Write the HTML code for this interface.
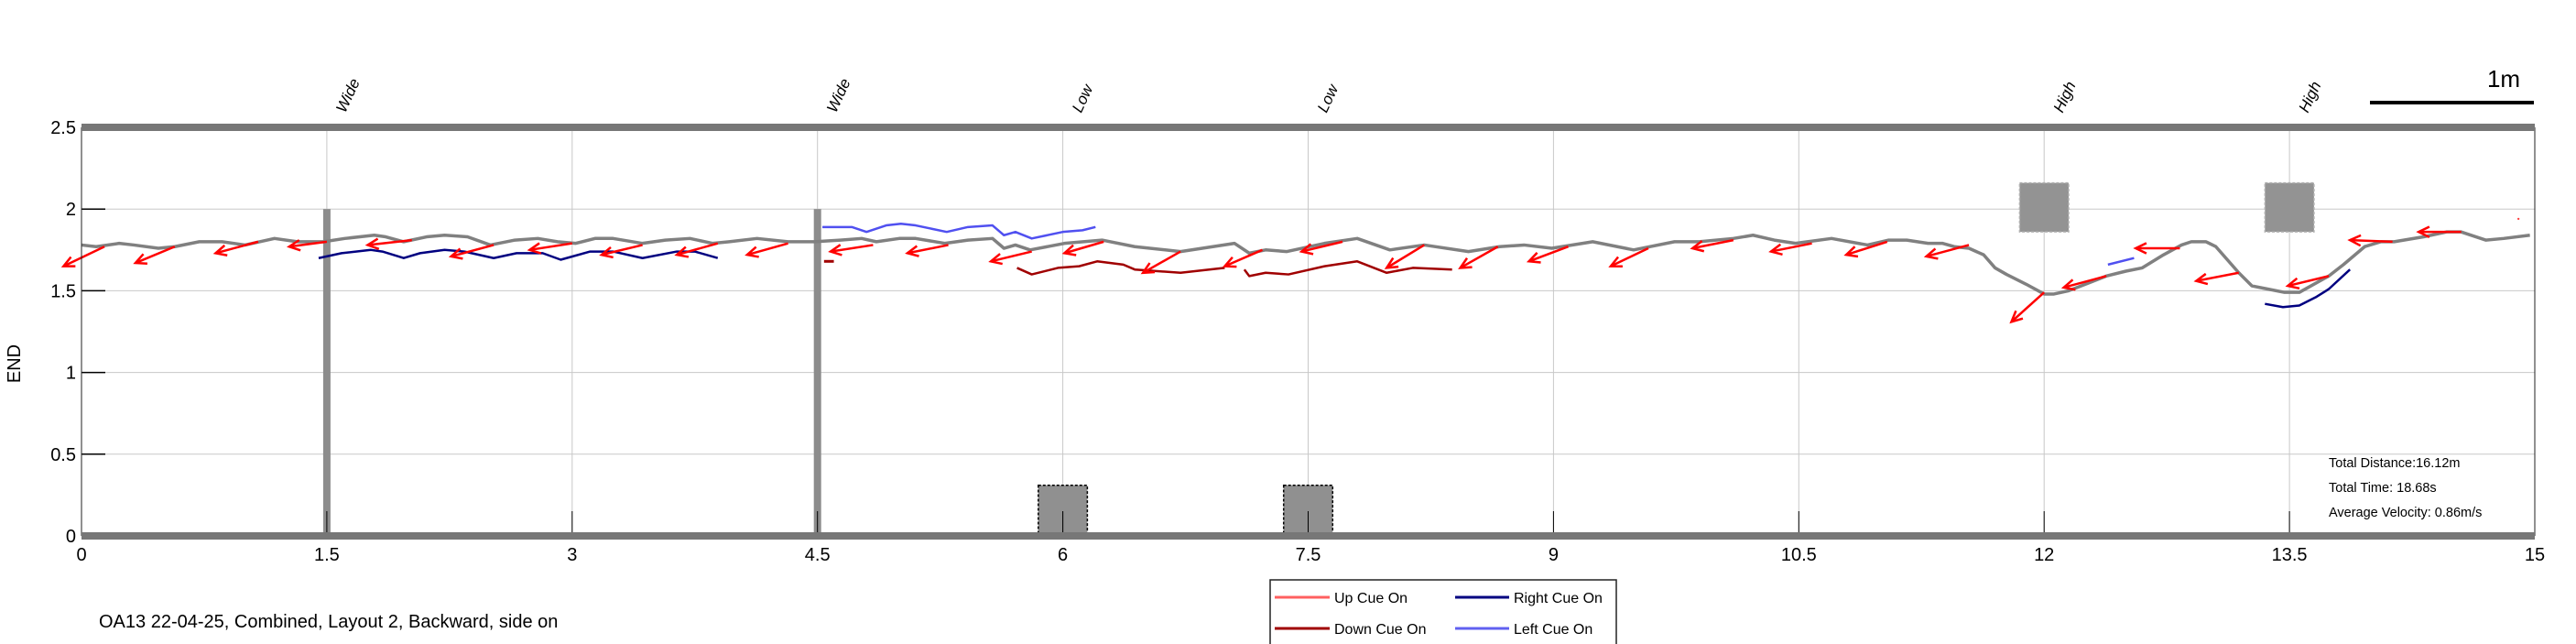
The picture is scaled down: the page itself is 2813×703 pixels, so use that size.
<!DOCTYPE html>
<html><head><meta charset="utf-8"><style>
html,body{margin:0;padding:0;background:#fff;}
svg{display:block;font-family:"Liberation Sans Narrow","Liberation Sans",sans-serif;}
</style></head><body>
<svg id="chart" width="2813" height="703" viewBox="0 0 2813 703" xmlns="http://www.w3.org/2000/svg">
<g id="grid"></g>
<g id="obstacles"></g>
<g id="series"></g>
<g id="axes"></g>
<text x="22" y="397" font-size="20" text-anchor="middle" transform="rotate(-90 22 397)">END</text>
<g>
<line x1="2588" y1="112" x2="2767" y2="112" stroke="#000" stroke-width="4"/>
<text x="2734" y="95" font-size="26" text-anchor="middle">1m</text>
</g>
<g font-size="14.5" font-family="Liberation Sans, sans-serif">
<text x="2543" y="510">Total Distance:16.12m</text>
<text x="2543" y="537">Total Time: 18.68s</text>
<text x="2543" y="564">Average Velocity: 0.86m/s</text>
</g>
<text x="108" y="685" font-size="20" font-family="Liberation Sans, sans-serif">OA13 22-04-25, Combined, Layout 2, Backward, side on</text>
<g font-size="16" font-family="Liberation Sans, sans-serif">
<rect x="1387" y="633" width="378" height="72" fill="#fff" stroke="#222" stroke-width="1.5"/>
<g><line x1="1392" y1="652" x2="1452" y2="652" stroke="#ff6060" stroke-width="3"/><text x="1457" y="658">Up Cue On</text></g>
<g><line x1="1589" y1="652" x2="1648" y2="652" stroke="#000080" stroke-width="3"/><text x="1653" y="658">Right Cue On</text></g>
<g><line x1="1392" y1="686" x2="1452" y2="686" stroke="#a00000" stroke-width="3"/><text x="1457" y="692">Down Cue On</text></g>
<g><line x1="1589" y1="686" x2="1648" y2="686" stroke="#6060f0" stroke-width="3"/><text x="1653" y="692">Left Cue On</text></g>
</g>
</svg>
<script>
const xTicks=[0,1.5,3,4.5,6,7.5,9,10.5,12,13.5,15];
const xTickLabels=["0","1.5","3","4.5","6","7.5","9","10.5","12","13.5","15"];
const yTicks=[0,0.5,1,1.5,2,2.5];
const yTickLabels=["0","0.5","1","1.5","2","2.5"];
const cueX=[1.5,4.5,6,7.5,12,13.5];
const cueLabels=["Wide","Wide","Low","Low","High","High"];
const pathX=[0,0.09,0.23,0.32,0.47,0.57,0.72,0.86,1.0,1.18,1.32,1.48,1.61,1.79,1.86,1.97,2.11,2.22,2.36,2.5,2.65,2.79,2.91,3.02,3.14,3.25,3.43,3.57,3.72,3.86,3.96,4.13,4.32,4.48,4.64,4.77,4.86,5.0,5.1,5.28,5.42,5.57,5.64,5.71,5.8,6.01,6.24,6.44,6.72,7.05,7.14,7.24,7.37,7.6,7.8,8.0,8.21,8.48,8.67,8.82,8.99,9.24,9.49,9.74,9.89,10.1,10.22,10.35,10.48,10.7,10.92,11.05,11.16,11.29,11.38,11.45,11.54,11.63,11.7,11.77,11.89,12.0,12.06,12.15,12.38,12.5,12.6,12.73,12.84,12.9,12.99,13.05,13.19,13.27,13.37,13.47,13.56,13.74,13.83,13.96,14.06,14.14,14.32,14.46,14.55,14.7,14.81,14.97];
const pathY=[1.78,1.77,1.79,1.78,1.76,1.77,1.80,1.80,1.78,1.82,1.80,1.80,1.82,1.84,1.83,1.80,1.83,1.84,1.83,1.78,1.81,1.82,1.80,1.79,1.82,1.82,1.79,1.81,1.82,1.79,1.80,1.82,1.80,1.80,1.81,1.82,1.80,1.82,1.82,1.79,1.81,1.82,1.76,1.78,1.75,1.79,1.81,1.77,1.74,1.79,1.73,1.75,1.74,1.79,1.82,1.75,1.78,1.74,1.77,1.78,1.76,1.80,1.75,1.80,1.80,1.82,1.84,1.81,1.79,1.82,1.78,1.81,1.81,1.79,1.79,1.77,1.76,1.72,1.64,1.60,1.54,1.48,1.48,1.50,1.59,1.62,1.64,1.72,1.78,1.80,1.80,1.77,1.61,1.53,1.51,1.49,1.49,1.59,1.66,1.77,1.80,1.80,1.83,1.86,1.86,1.81,1.82,1.84];
const rightX1=[1.45,1.59,1.77,1.84,1.97,2.07,2.22,2.34,2.52,2.66,2.82,2.93,3.11,3.25,3.43,3.64,3.75,3.89];
const rightY1=[1.70,1.73,1.75,1.74,1.70,1.73,1.75,1.74,1.70,1.73,1.73,1.69,1.74,1.74,1.70,1.74,1.74,1.70];
const rightX2=[13.35,13.46,13.56,13.66,13.74,13.87];
const rightY2=[1.42,1.40,1.41,1.46,1.51,1.63];
const leftX1=[4.53,4.71,4.8,4.92,5.01,5.1,5.29,5.42,5.57,5.64,5.71,5.81,6.0,6.12,6.2];
const leftY1=[1.89,1.89,1.86,1.90,1.91,1.90,1.86,1.89,1.90,1.84,1.86,1.82,1.86,1.87,1.89];
const leftX2=[12.39,12.55];
const leftY2=[1.66,1.70];
const downX1=[4.54,4.6];
const downY1=[1.68,1.68];
const downX2=[5.72,5.81,5.97,6.1,6.21,6.37,6.44,6.72,6.99];
const downY2=[1.64,1.60,1.64,1.65,1.68,1.66,1.63,1.61,1.64];
const downX3=[7.11,7.14,7.24,7.38,7.6,7.8,7.98,8.14,8.38];
const downY3=[1.63,1.59,1.61,1.60,1.65,1.68,1.61,1.64,1.63];
const arrowX0=[0.14,0.57,1.08,1.50,2.02,2.52,3.0,3.43,3.89,4.32,4.84,5.30,5.81,6.25,6.72,7.22,7.71,8.21,8.66,9.09,9.58,10.1,10.58,11.04,11.54,12.0,12.38,12.83,13.19,13.74,14.13,14.55];
const arrowY0=[1.77,1.77,1.80,1.80,1.81,1.78,1.79,1.78,1.79,1.79,1.78,1.78,1.74,1.80,1.74,1.75,1.80,1.78,1.77,1.77,1.76,1.81,1.79,1.80,1.78,1.49,1.59,1.76,1.61,1.59,1.80,1.86];
const arrowX1=[-0.11,0.33,0.82,1.27,1.75,2.26,2.74,3.18,3.64,4.07,4.58,5.05,5.56,6.01,6.49,6.99,7.46,7.98,8.43,8.85,9.35,9.85,10.33,10.79,11.28,11.80,12.12,12.56,12.93,13.49,13.87,14.29];
const arrowY1=[1.65,1.67,1.73,1.77,1.78,1.71,1.75,1.72,1.72,1.72,1.74,1.73,1.68,1.73,1.61,1.65,1.74,1.64,1.64,1.68,1.65,1.76,1.74,1.72,1.71,1.31,1.52,1.76,1.56,1.53,1.81,1.86];

const X0=89,X1=2768,Y0=585,Y1=139;
const sx=v=>X0+(v-0)/(15-0)*(X1-X0);
const sy=v=>Y0-(v-0)/(2.5-0)*(Y0-Y1);
const NS="http://www.w3.org/2000/svg";
function mk(tag,attrs,parent){const e=document.createElementNS(NS,tag);for(const k in attrs)e.setAttribute(k,attrs[k]);parent.appendChild(e);return e;}
const gridG=document.getElementById('grid'),axesG=document.getElementById('axes'),obsG=document.getElementById('obstacles'),serG=document.getElementById('series');

xTicks.forEach((t,i)=>{
  const g=mk('line',{x1:sx(t),x2:sx(t),y1:Y1,y2:Y0,stroke:'#c8c8c8','stroke-width':1},gridG);
  
  
  const tk=mk('line',{x1:sx(t),x2:sx(t),y1:Y0,y2:Y0-27,stroke:'#000','stroke-width':1},axesG);
  
  
  const lb=mk('text',{x:sx(t),y:Y0+27,'font-size':20,'text-anchor':'middle'},axesG);
  lb.textContent=xTickLabels[i];
  
  
});
yTicks.forEach((t,i)=>{
  const g=mk('line',{x1:X0,x2:X1,y1:sy(t),y2:sy(t),stroke:'#c8c8c8','stroke-width':1},gridG);
  
  
  const tk=mk('line',{x1:X0,x2:X0+26,y1:sy(t),y2:sy(t),stroke:'#000','stroke-width':1.5},axesG);
  
  
  const lb=mk('text',{x:X0-6,y:sy(t)+7,'font-size':20,'text-anchor':'end'},axesG);
  lb.textContent=yTickLabels[i];
  
  
});
const fr=mk('line',{x1:X0,x2:X0,y1:Y1,y2:Y0,stroke:'#222','stroke-width':1},axesG);


const fr2=mk('line',{x1:X1,x2:X1,y1:Y1,y2:Y0,stroke:'#222','stroke-width':1},axesG);


const ceilBar=mk('rect',{x:X0,y:Y1-4,width:X1-X0,height:8,fill:'#777'},axesG);


const floorBar=mk('rect',{x:X0,y:Y0-4,width:X1-X0,height:8,fill:'#777'},axesG);



cueX.forEach((c,i)=>{
  const px=sx(c)+20,py=124;
  const t=mk('text',{x:px,y:py,'font-size':17,'font-style':'italic',transform:`rotate(-65 ${px} ${py})`},axesG);
  t.textContent=cueLabels[i];
  
  
});
[1.5,4.5].forEach(w=>{
  const r=mk('rect',{x:sx(w)-4,y:sy(2),width:8,height:sy(0)-sy(2),fill:'#8c8c8c'},obsG);
  
  
});
[6,7.5].forEach(w=>{
  const r=mk('rect',{x:sx(w-0.15),y:sy(0.31),width:sx(0.3)-sx(0),height:sy(0)-sy(0.31),fill:'#909090',stroke:'#000','stroke-width':1.5,'stroke-dasharray':'3,2'},obsG);
  
  
  const l=mk('line',{x1:sx(w),x2:sx(w),y1:sy(0.15),y2:sy(0),stroke:'#555','stroke-width':1},obsG);
  
  
});
[12,13.5].forEach(w=>{
  const r=mk('rect',{x:sx(w-0.15),y:sy(2.16),width:sx(0.3)-sx(0),height:sy(1.86)-sy(2.16),fill:'#939393',stroke:'#b0b0b0','stroke-width':1.5,'stroke-dasharray':'3,2'},obsG);
  
  
});

function poly(xs,ys,color,w,name){
  const p=mk('polyline',{points:xs.map((x,i)=>sx(x)+','+sy(ys[i])).join(' '),fill:'none',stroke:color,'stroke-width':w,'stroke-linejoin':'round'},serG);
  
  
}
poly(pathX,pathY,'#808080',3.5,'trajectory-line');
poly(rightX1,rightY1,'#000080',2.5,'right-cue-line');
poly(rightX2,rightY2,'#000080',2.5,'right-cue-line');
poly(leftX1,leftY1,'#5050f0',2.5,'left-cue-line');
poly(leftX2,leftY2,'#5050f0',2.5,'left-cue-line');
poly(downX1,downY1,'#a00000',3,'down-cue-line');
poly(downX2,downY2,'#a00000',2.5,'down-cue-line');
poly(downX3,downY3,'#a00000',2.5,'down-cue-line');

arrowX0.forEach((x0,i)=>{
  const ax=sx(x0),ay=sy(arrowY0[i]),bx=sx(arrowX1[i]),by=sy(arrowY1[i]);
  const ang=Math.atan2(by-ay,bx-ax),h=13,s=0.45;
  const g=mk('g',{stroke:'#ff0000','stroke-width':2.5,fill:'none'},serG);
  
  
  mk('line',{x1:ax,y1:ay,x2:bx,y2:by},g);
  mk('polyline',{points:`${bx-h*Math.cos(ang-s)},${by-h*Math.sin(ang-s)} ${bx},${by} ${bx-h*Math.cos(ang+s)},${by-h*Math.sin(ang+s)}`},g);
});
const dot=mk('circle',{cx:sx(14.9),cy:sy(1.94),r:1.2,fill:'#ff4040'},serG);


</script>
</body></html>
